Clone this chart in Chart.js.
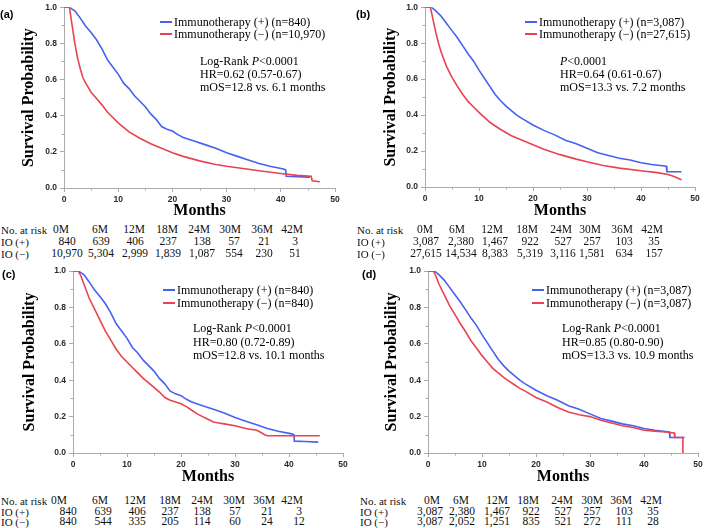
<!DOCTYPE html>
<html><head><meta charset="utf-8">
<script src="https://cdn.jsdelivr.net/npm/chart.js@4/dist/chart.umd.min.js"></script>
<style>
html,body{margin:0;padding:0;background:#fff}
#root{position:relative;width:709px;height:528px;overflow:hidden;background:#fff}
canvas{position:absolute}
.t{position:absolute;white-space:nowrap;line-height:1;font-family:"Liberation Serif","Times New Roman",serif;color:#111}
.sw{position:absolute;height:2px}
</style></head>
<body><div id="root">
<canvas id="cA" width="354" height="222" style="left:0;top:0"></canvas>
<canvas id="cB" width="354" height="221" style="left:355px;top:0"></canvas>
<canvas id="cC" width="354" height="225" style="left:0;top:262px"></canvas>
<canvas id="cD" width="354" height="225" style="left:355px;top:262px"></canvas>
</div>
<script>
// ---------- DATA ----------
// IO (+) cohort, n=840 (panels a and c)
const ioPos840Months = [0, 1, 1.5, 2, 3, 4, 5, 6, 7, 8, 9, 10, 11, 12, 13, 14, 15, 16, 17, 18, 19, 20, 21, 22, 24, 26, 28, 30, 32, 34, 36, 38, 40.5, 40.9, 41.0, 43, 45.4];
const ioPos840Surv   = [1, 1, 0.99, 0.98, 0.94, 0.895, 0.86, 0.82, 0.77, 0.71, 0.67, 0.63, 0.58, 0.55, 0.51, 0.48, 0.45, 0.41, 0.38, 0.34, 0.325, 0.315, 0.295, 0.28, 0.26, 0.24, 0.22, 0.195, 0.175, 0.155, 0.135, 0.12, 0.105, 0.10, 0.065, 0.063, 0.06];
// IO (−) cohort, n=10,970 (panel a)
const ioNeg10970Months = [0, 1, 1.25, 1.5, 2, 2.5, 3, 3.5, 4, 5, 6, 7, 8, 9, 10, 12, 14, 16, 18, 20, 22, 25, 28, 30, 33, 36, 40, 43, 45.6, 45.8, 47.2];
const ioNeg10970Surv   = [1, 1, 0.95, 0.90, 0.80, 0.72, 0.66, 0.61, 0.58, 0.53, 0.495, 0.46, 0.42, 0.39, 0.36, 0.31, 0.275, 0.245, 0.22, 0.195, 0.175, 0.15, 0.13, 0.12, 0.108, 0.095, 0.08, 0.07, 0.065, 0.04, 0.035];
// IO (+) cohort, n=3,087 (panels b and d)
const ioPos3087Months = [0, 1.2, 2, 3, 4, 5, 6, 7, 8, 9, 10, 11, 12, 13, 14, 15, 16, 17, 18, 20, 22, 24, 26, 28, 30, 32, 34, 36, 38, 40, 42, 44.7, 44.8, 47.5];
const ioPos3087Surv   = [1, 1, 0.98, 0.95, 0.91, 0.87, 0.83, 0.785, 0.74, 0.70, 0.65, 0.605, 0.56, 0.515, 0.48, 0.45, 0.425, 0.40, 0.38, 0.345, 0.315, 0.29, 0.26, 0.24, 0.215, 0.19, 0.175, 0.16, 0.15, 0.135, 0.125, 0.115, 0.085, 0.085];
// IO (−) cohort, n=27,615 (panel b)
const ioNeg27615Months = [0, 1, 1.5, 2, 2.5, 3, 4, 5, 6, 7, 8, 9, 10, 12, 14, 16, 18, 20, 22, 25, 28, 30, 33, 36, 40, 43, 45, 46, 47.5];
const ioNeg27615Surv   = [1, 1, 0.93, 0.86, 0.80, 0.75, 0.67, 0.61, 0.56, 0.515, 0.475, 0.445, 0.415, 0.36, 0.32, 0.285, 0.26, 0.235, 0.21, 0.18, 0.155, 0.14, 0.12, 0.105, 0.09, 0.08, 0.07, 0.06, 0.04];
// IO (−) matched, n=840 (panel c)
const ioNegM840Months = [0, 1, 1.5, 2, 3, 4, 5, 6, 7, 8, 9, 10, 11, 12, 13, 14, 15, 16, 17, 18, 19, 20, 21, 22, 23, 24, 25, 26, 27, 28, 30, 32, 34, 35, 35.5, 36, 40, 45.7];
const ioNegM840Surv   = [1, 1, 0.97, 0.93, 0.85, 0.79, 0.73, 0.67, 0.62, 0.57, 0.53, 0.50, 0.47, 0.44, 0.41, 0.385, 0.36, 0.335, 0.305, 0.29, 0.28, 0.27, 0.255, 0.235, 0.215, 0.20, 0.185, 0.17, 0.165, 0.16, 0.15, 0.135, 0.125, 0.11, 0.10, 0.095, 0.095, 0.095];
// IO (−) matched, n=3,087 (panel d)
const ioNegM3087Months = [0, 1, 1.5, 2, 3, 4, 5, 6, 7, 8, 9, 10, 11, 12, 13, 14, 15, 16, 17, 18, 20, 22, 24, 26, 28, 30, 32, 34, 36, 38, 40, 42, 44, 45.6, 45.7, 47.2, 47.2];
const ioNegM3087Surv   = [1, 1, 0.97, 0.93, 0.87, 0.81, 0.76, 0.71, 0.665, 0.615, 0.575, 0.535, 0.50, 0.465, 0.44, 0.415, 0.395, 0.375, 0.355, 0.34, 0.305, 0.28, 0.25, 0.225, 0.21, 0.20, 0.18, 0.165, 0.15, 0.14, 0.125, 0.12, 0.115, 0.11, 0.085, 0.085, 0];

// Risk tables
const riskHeaders = ['0M', '6M', '12M', '18M', '24M', '30M', '36M', '42M'];
const riskA_pos = [840, 639, 406, 237, 138, 57, 21, 3];
const riskA_neg = [10970, 5304, 2999, 1839, 1087, 554, 230, 51];
const riskB_pos = [3087, 2380, 1467, 922, 527, 257, 103, 35];
const riskB_neg = [27615, 14534, 8383, 5319, 3116, 1581, 634, 157];
const riskC_pos = [840, 639, 406, 237, 138, 57, 21, 3];
const riskC_neg = [840, 544, 335, 205, 114, 60, 24, 12];
const riskD_pos = [3087, 2380, 1467, 922, 527, 257, 103, 35];
const riskD_neg = [3087, 2052, 1251, 835, 521, 272, 111, 28];

// Axis ticks (major labelled, minor unlabelled)
const xMinorTicks = [5, 15, 25, 35, 45];
const yMinorTicks = [0.1, 0.3, 0.5, 0.7, 0.9];

// ---------- STYLE ----------
const BLUE = '#4760f2';
const RED = '#e8434f';
const AXIS = '#ababab';
const SERIF = '"Liberation Serif","Times New Roman",serif';
const TICKFONT = '"Liberation Sans",Arial,sans-serif';

function pts(xs, ys) { return xs.map((x, i) => ({x: x, y: ys[i]})); }

const minorTickPlugin = {
  id: 'minorTicks',
  afterDraw(chart) {
    const c = chart.ctx, xs = chart.scales.x, ys = chart.scales.y;
    c.save();
    c.strokeStyle = AXIS; c.lineWidth = 1;
    xMinorTicks.forEach(v => {
      const px = Math.round(xs.getPixelForValue(v)) + 0.5;
      c.beginPath(); c.moveTo(px, xs.top); c.lineTo(px, xs.top + 2.5); c.stroke();
    });
    yMinorTicks.forEach(v => {
      const py = Math.round(ys.getPixelForValue(v)) + 0.5;
      c.beginPath(); c.moveTo(ys.right, py); c.lineTo(ys.right - 2.5, py); c.stroke();
    });
    c.restore();
  }
};

function makePanel(id, posX, posY, negX, negY, cfg) {
  const ctx = document.getElementById(id).getContext('2d');
  const ds = (data, color) => ({data: data, borderColor: color, borderWidth: 1.6, pointRadius: 0, tension: 0, fill: false});
  new Chart(ctx, {
    type: 'line',
    data: {datasets: [ds(pts(negX, negY), RED), ds(pts(posX, posY), BLUE)]},
    plugins: [minorTickPlugin],
    options: {
      responsive: false, animation: false, devicePixelRatio: 1,
      layout: {padding: {left: 0, top: cfg.padTop, right: cfg.padRight, bottom: 0}},
      plugins: {legend: {display: false}, tooltip: {enabled: false}},
      scales: {
        x: {
          type: 'linear', min: 0, max: 50,
          afterFit: s => { s.height = 34; },
          border: {display: true, color: AXIS, width: 1},
          grid: {drawOnChartArea: false, drawTicks: true, tickLength: 4, color: AXIS},
          ticks: {stepSize: 10, autoSkip: false, maxRotation: 0, padding: 3, color: '#2a2a2a',
            font: {family: TICKFONT, size: 8.5, weight: 'bold', lineHeight: 1}},
          title: {display: true, text: 'Months', color: '#000',
            font: {family: SERIF, size: 16, weight: 'bold', lineHeight: 1.2},
            padding: {top: 0, bottom: cfg.xTitlePad}}
        },
        y: {
          min: 0, max: 1,
          afterFit: s => { s.width = cfg.yWidth; },
          border: {display: true, color: AXIS, width: 1},
          grid: {drawOnChartArea: false, drawTicks: true, tickLength: 4, color: AXIS},
          ticks: {stepSize: 0.2, autoSkip: false, padding: 3, color: '#2a2a2a',
            font: {family: TICKFONT, size: 8.5, weight: 'bold', lineHeight: 1},
            callback: v => v.toFixed(1)},
          title: {display: true, text: 'Survival Probability', color: '#000',
            font: {family: SERIF, size: 16, weight: 'bold', lineHeight: 1.2},
            padding: {top: cfg.yTitlePad, bottom: 0}}
        }
      }
    }
  });
}

makePanel('cA', ioPos840Months, ioPos840Surv, ioNeg10970Months, ioNeg10970Surv,
  {padTop: 6, padRight: 19, yWidth: 64, yTitlePad: 19.4, xTitlePad: 1.4});
makePanel('cB', ioPos3087Months, ioPos3087Surv, ioNeg27615Months, ioNeg27615Surv,
  {padTop: 5, padRight: 14, yWidth: 70, yTitlePad: 26.4, xTitlePad: 0.4});
makePanel('cC', ioPos840Months, ioPos840Surv, ioNegM840Months, ioNegM840Surv,
  {padTop: 9, padRight: 11, yWidth: 73, yTitlePad: 20, xTitlePad: 0.7});
makePanel('cD', ioPos3087Months, ioPos3087Surv, ioNegM3087Months, ioNegM3087Surv,
  {padTop: 9, padRight: 11, yWidth: 73, yTitlePad: 27.4, xTitlePad: 0.4});

// ---------- TEXT OVERLAYS ----------
const root = document.getElementById('root');
function txt(html, x, y, opt) {
  opt = opt || {};
  const d = document.createElement('div');
  d.className = 't';
  d.innerHTML = html;
  d.style.left = x + 'px';
  d.style.top = y + 'px';
  d.style.fontSize = (opt.size || 12) + 'px';
  if (opt.family) d.style.fontFamily = opt.family;
  if (opt.bold) d.style.fontWeight = 'bold';
  if (opt.color) d.style.color = opt.color;
  d.style.transform = opt.center ? 'translate(-50%,-50%)' : 'translate(0,-50%)';
  root.appendChild(d);
}
function swatch(x, y, w, color) {
  const d = document.createElement('div');
  d.className = 'sw';
  d.style.left = x + 'px'; d.style.top = (y - 1) + 'px';
  d.style.width = w + 'px'; d.style.background = color;
  root.appendChild(d);
}
const fmt = n => n.toLocaleString('en-US');

function legend(x, y1, y2, posLabel, negLabel) {
  swatch(x, y1, 12, BLUE);
  swatch(x, y2, 12, RED);
  txt(posLabel, x + 14, y1, {size: 12, color: '#000'});
  txt(negLabel, x + 14, y2, {size: 12, color: '#000'});
}
function notes(x, ys, lines) { lines.forEach((l, i) => txt(l, x, ys[i], {size: 12, color: '#000'})); }
function riskTable(labelX, rows, hdrX, valX, pos, neg) {
  txt('No. at risk', labelX, rows[0], {size: 11});
  txt('IO (+)', labelX, rows[1], {size: 11});
  txt('IO (\u2212)', labelX, rows[2], {size: 11});
  riskHeaders.forEach((h, i) => txt(h, hdrX[i], rows[0], {size: 11.5, center: true}));
  pos.forEach((v, i) => txt(fmt(v), valX[i], rows[1], {size: 11.5, center: true}));
  neg.forEach((v, i) => txt(fmt(v), valX[i], rows[2], {size: 11.5, center: true}));
}

// panel labels
const lab = {size: 11, bold: true, family: '"Liberation Sans",Arial,sans-serif', color: '#000'};
txt('(a)', 0, 14, lab);
txt('(b)', 356, 14, lab);
txt('(c)', 2, 274, lab);
txt('(d)', 362, 274, lab);

// legends
legend(160, 21.5, 33.5, 'Immunotherapy (+) (n=840)', 'Immunotherapy (\u2212) (n=10,970)');
legend(525, 21.5, 33.5, 'Immunotherapy (+) (n=3,087)', 'Immunotherapy (\u2212) (n=27,615)');
legend(163, 289.5, 302.5, 'Immunotherapy (+) (n=840)', 'Immunotherapy (\u2212) (n=840)');
legend(532, 289.5, 302.5, 'Immunotherapy (+) (n=3,087)', 'Immunotherapy (\u2212) (n=3,087)');

// statistics
notes(200, [61, 74, 87], ['Log-Rank <i>P</i>&lt;0.0001', 'HR=0.62 (0.57-0.67)', 'mOS=12.8 vs. 6.1 months']);
notes(560, [61, 74, 87], ['<i>P</i>&lt;0.0001', 'HR=0.64 (0.61-0.67)', 'mOS=13.3 vs. 7.2 months']);
notes(193, [328, 342, 355], ['Log-Rank <i>P</i>&lt;0.0001', 'HR=0.80 (0.72-0.89)', 'mOS=12.8 vs. 10.1 months']);
notes(562, [328, 342, 355], ['Log-Rank <i>P</i>&lt;0.0001', 'HR=0.85 (0.80-0.90)', 'mOS=13.3 vs. 10.9 months']);

// risk tables
riskTable(1, [230, 242, 254], [61, 100, 134, 167, 199, 230, 262, 292], [67, 101, 135, 168, 202, 234, 264, 295], riskA_pos, riskA_neg);
riskTable(357, [230, 242, 254], [425, 457, 492, 527, 561, 590, 622, 652], [426, 461, 495, 530, 563, 592, 624, 654], riskB_pos, riskB_neg);
riskTable(1, [501, 511.5, 521.5], [59, 100, 135, 170, 202, 234, 264, 292], [68, 103, 137, 170, 202, 235, 267, 299], riskC_pos, riskC_neg);
riskTable(360, [501, 511.5, 521.5], [432, 461, 497, 528, 562, 592, 621, 651], [430, 462, 497, 531, 563, 592, 624, 653], riskD_pos, riskD_neg);
</script>
</body></html>
